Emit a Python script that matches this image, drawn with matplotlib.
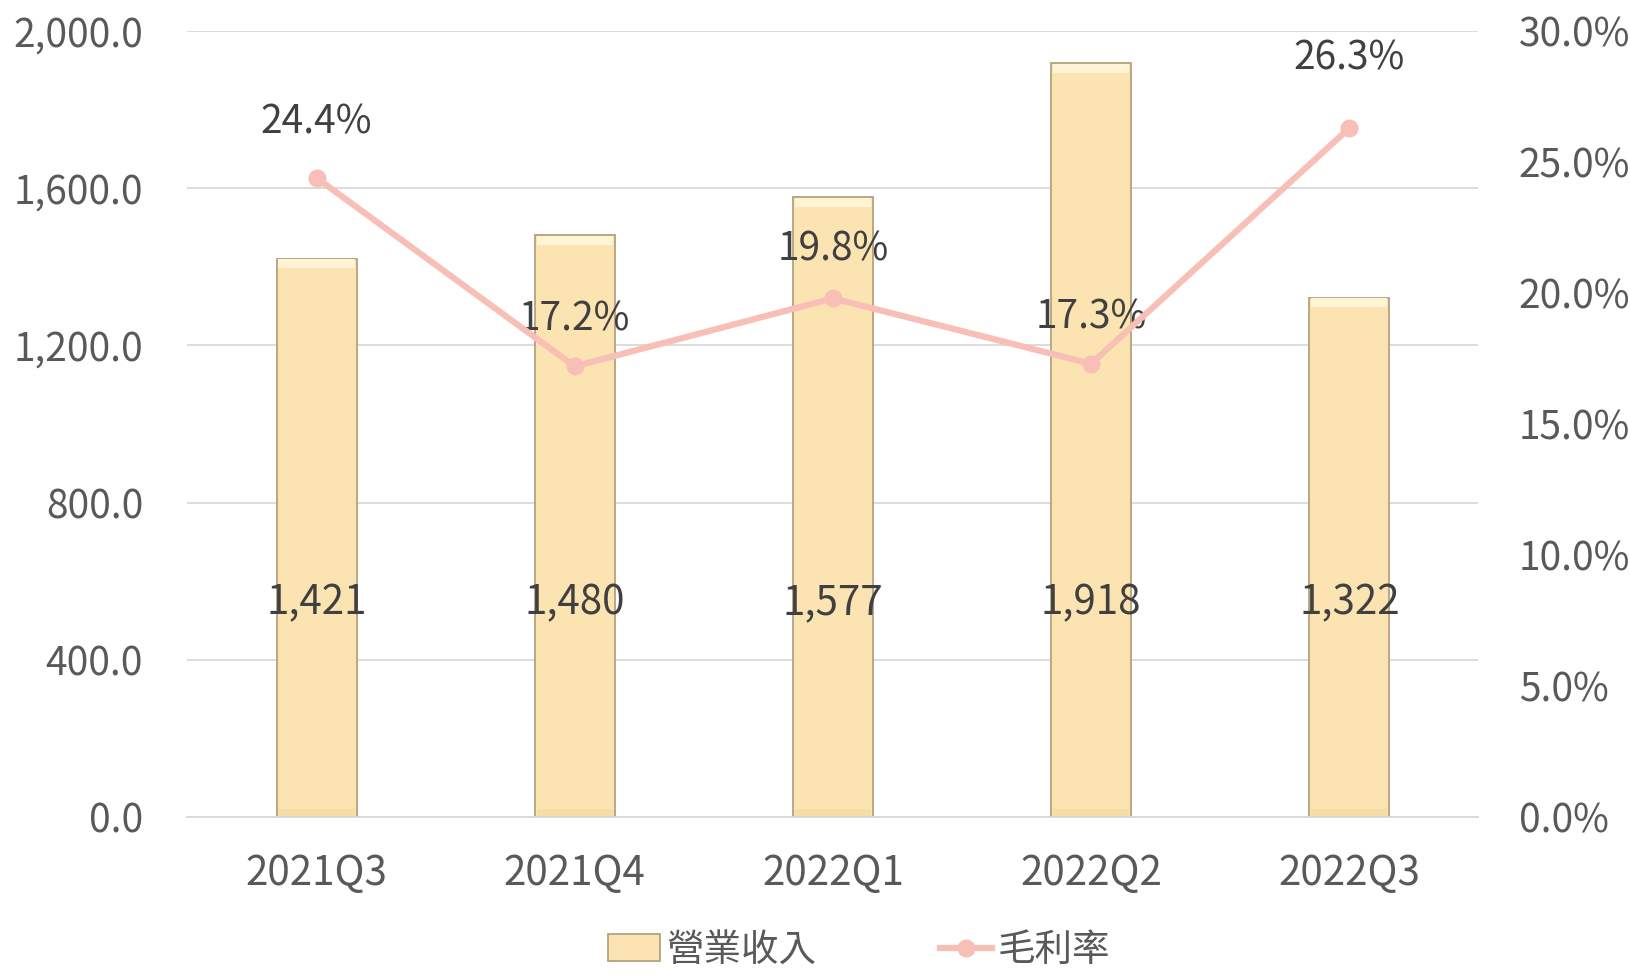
import matplotlib
matplotlib.use("Agg")
import matplotlib.pyplot as plt
from matplotlib.ticker import FuncFormatter, MultipleLocator
from matplotlib.lines import Line2D
from matplotlib.patches import Patch

plt.rcParams['font.family'] = ['Noto Sans CJK TC', 'DejaVu Sans']

quarters = ["2021Q3", "2021Q4", "2022Q1", "2022Q2", "2022Q3"]
revenue = [1421, 1480, 1577, 1918, 1322]
margin = [24.4, 17.2, 19.8, 17.3, 26.3]

BAR_COLOR = '#FBE4B2'
BAR_EDGE = '#B5A27E'
LINE_COLOR = '#F8BFB6'
TICK_COLOR = '#595959'
LABEL_COLOR = '#404040'

fig = plt.figure(figsize=(16.3, 9.77), dpi=100)
ax = fig.add_axes([0.115, 0.164, 0.792, 0.804])
ax2 = ax.twinx()

x = range(len(quarters))
bars = ax.bar(x, revenue, width=0.31, color=BAR_COLOR, edgecolor=BAR_EDGE,
              linewidth=1.3, zorder=2)
# soft bands to hint at the bevel
ax.bar(x, [22] * len(revenue), bottom=[r - 24 for r in revenue],
       width=0.295, color='#FFF4D4', linewidth=0, zorder=3)
ax.bar(x, [18] * len(revenue), bottom=3, width=0.295, color='#F5DDA8',
       linewidth=0, zorder=3)

for i, v in enumerate(revenue):
    ax.text(i, 545, f"{v:,}", ha='center', va='center', fontsize=29,
            color=LABEL_COLOR, zorder=5)

ax.set_xlim(-0.5, len(quarters) - 0.5)
ax.set_ylim(0, 2000)
ax.yaxis.set_major_locator(MultipleLocator(400))
ax.yaxis.set_major_formatter(FuncFormatter(lambda v, p: f"{v:,.1f}"))
ax.grid(axis='y', color='#D9D9D9', linewidth=1.3, zorder=0)
ax.set_axisbelow(True)
ax.set_xticks(list(x))
ax.set_xticklabels(quarters)
ax.tick_params(axis='x', length=0, pad=26, labelsize=29, labelcolor=TICK_COLOR)
ax.tick_params(axis='y', length=0, pad=32, labelsize=28, labelcolor=TICK_COLOR)
for s in ['top', 'left', 'right']:
    ax.spines[s].set_visible(False)
ax.spines['bottom'].set_color('#D9D9D9')
ax.spines['bottom'].set_linewidth(1.3)

ax2.plot(list(x), margin, color=LINE_COLOR, linewidth=4.5, marker='o',
         markersize=12, zorder=4)
ax2.set_ylim(0, 30)
ax2.yaxis.set_major_locator(MultipleLocator(5))
ax2.yaxis.set_major_formatter(FuncFormatter(lambda v, p: f"{v:.1f}%"))
ax2.tick_params(axis='y', length=0, pad=29, labelsize=28, labelcolor=TICK_COLOR)
for s in ['top', 'left', 'right', 'bottom']:
    ax2.spines[s].set_visible(False)

offsets = [40, 34, 35, 33, 50]
for i, (v, off) in enumerate(zip(margin, offsets)):
    ax2.annotate(f"{v:.1f}%", (i, v), xytext=(0, off), textcoords='offset points',
                 ha='center', va='center', fontsize=28, color=LABEL_COLOR)

handles = [Patch(facecolor=BAR_COLOR, edgecolor=BAR_EDGE, linewidth=1.3),
           Line2D([0], [0], color=LINE_COLOR, linewidth=4.5, marker='o', markersize=12)]
fig.legend(handles, ["營業收入", "毛利率"], loc='lower center', ncol=2,
           bbox_to_anchor=(0.527, -0.027), frameon=False, fontsize=27,
           labelcolor=TICK_COLOR, handlelength=1.4, handletextpad=0.15,
           columnspacing=3.3)

fig.savefig("out.png", dpi=100)
